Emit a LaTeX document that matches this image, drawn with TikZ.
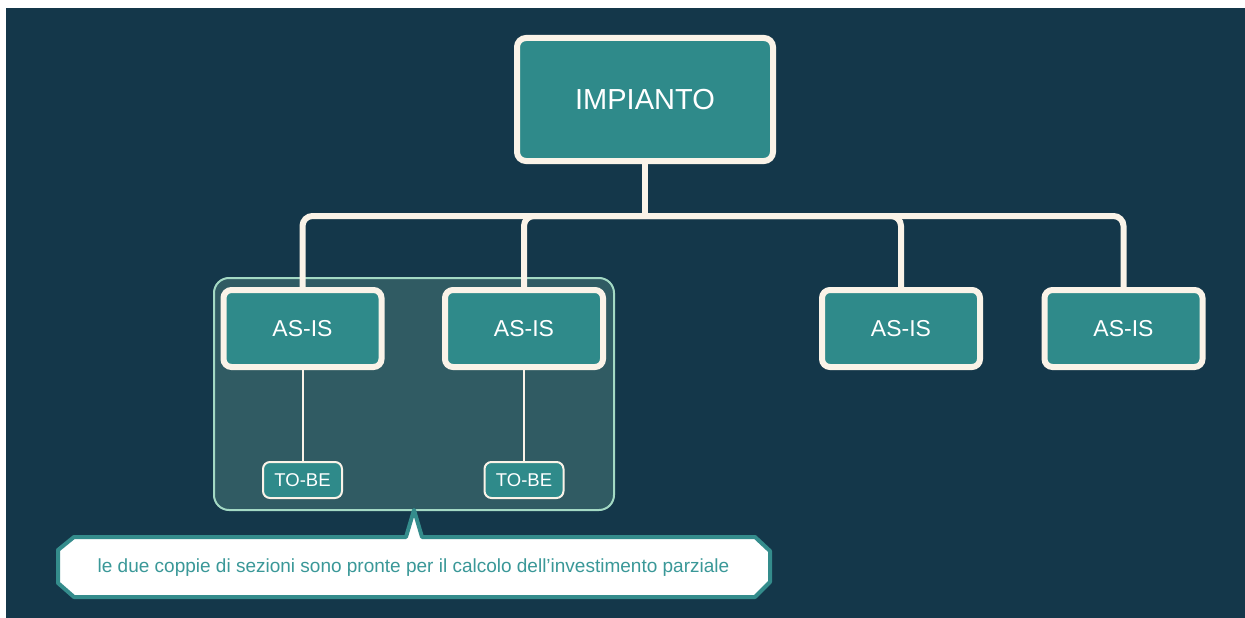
\documentclass[tikz,border=0pt]{standalone}
\usepackage{fontspec}
\setmainfont{Liberation Sans}
\definecolor{bg}{HTML}{14374A}
\definecolor{tealbox}{HTML}{2F8A8A}
\definecolor{cream}{HTML}{FAF3E8}
\definecolor{grpfill}{HTML}{305B63}
\definecolor{grpline}{HTML}{A3D9C4}
\definecolor{callline}{HTML}{348C8C}
\definecolor{calltext}{HTML}{3A9898}
\tikzset{
  bigbox/.style={draw=cream, fill=tealbox, line width=6pt, rounded corners=9pt,
    text=white, font=\fontsize{29}{34}\selectfont, inner sep=0pt},
  asisbox/.style={draw=cream, fill=tealbox, line width=6pt, rounded corners=8pt,
    minimum width=158pt, minimum height=77pt, text=white,
    font=\fontsize{23}{27}\selectfont, inner sep=0pt},
  tobebox/.style={draw=cream, fill=tealbox, line width=2pt, rounded corners=7pt,
    minimum width=79pt, minimum height=36pt, text=white,
    font=\fontsize{18.5}{22}\selectfont, inner sep=0pt},
  thick link/.style={draw=cream, line width=6pt, rounded corners=10pt},
  thin link/.style={draw=cream, line width=2pt},
  groupbox/.style={draw=grpline, fill=grpfill, line width=2pt, rounded corners=15pt,
    minimum width=400pt, minimum height=232pt, inner sep=0pt},
  callout/.style={draw=callline, fill=white, line width=4pt, line join=round},
  callouttext/.style={text=calltext, font=\fontsize{19}{23}\selectfont, inner sep=0pt}
}
\begin{document}
\begin{tikzpicture}[x=1pt,y=-1pt]
\useasboundingbox (0,0) rectangle (1245,618);
\fill[white] (0,0) rectangle (1245,618);
\fill[bg] (6,8) rectangle (1245,618);

% group
\node[groupbox] (grp) at (414,394) {};

% top node
\node[bigbox, minimum width=256pt, minimum height=123pt] (imp) at (645,99.5) {IMPIANTO};

% children
\node[asisbox] (a1) at (302.5,328.5) {AS-IS};
\node[asisbox] (a2) at (524,328.5) {AS-IS};
\node[asisbox] (a3) at (901,328.5) {AS-IS};
\node[asisbox] (a4) at (1123.5,328.5) {AS-IS};

\coordinate (bus) at (645,216);
\draw[thick link] (imp.south) -- (bus);
\draw[thick link] (a1.north) |- (bus) -| (a4.north);
\draw[thick link] (a2.north) |- (bus);
\draw[thick link] (a3.north) |- (bus);

% to-be
\node[tobebox] (t1) at (302.5,480) {TO-BE};
\node[tobebox] (t2) at (524,480) {TO-BE};
\draw[thin link] (a1.south) -- (t1.north);
\draw[thin link] (a2.south) -- (t2.north);

% callout
\draw[callout] (74,537) -- (406,537) -- (414,510) -- (422,537) -- (755,537)
  -- (770,551) -- (770,582) -- (755,597) -- (74,597) -- (58,583) -- (58,550) -- cycle;
\node[callouttext] (note) at (413.5,568) {le due coppie di sezioni sono pronte per il calcolo dell'investimento parziale};
\end{tikzpicture}
\end{document}
